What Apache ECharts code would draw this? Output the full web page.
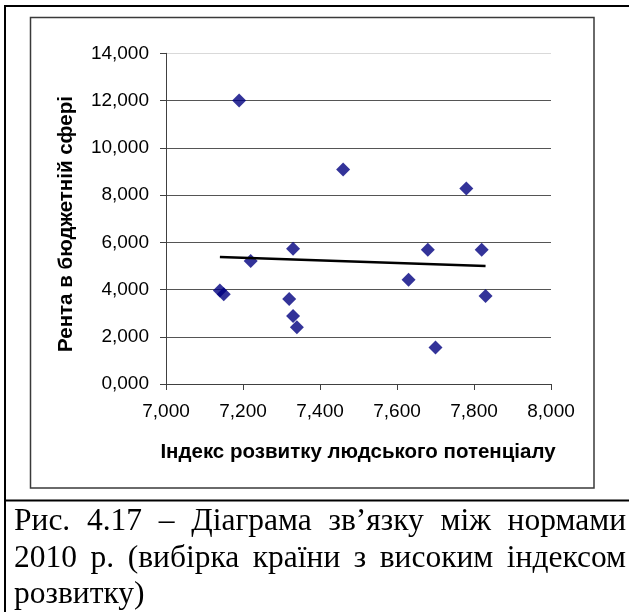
<!DOCTYPE html>
<html>
<head>
<meta charset="utf-8">
<script src="https://cdn.jsdelivr.net/npm/echarts@6/dist/echarts.min.js"></script>
<style>
html, body { margin: 0; padding: 0; background: #fff; }
#wrap { position: relative; width: 629px; height: 612px; overflow: hidden; }
#chart { position: absolute; left: 0; top: 0; width: 629px; height: 612px; }
#caption {
  position: absolute; left: 14px; top: 502px; width: 612px;
  font-family: "Liberation Serif", "Times New Roman", serif;
  font-size: 31.5px; line-height: 36.6px; color: #000;
}
#caption div { white-space: nowrap; }
#caption .j { text-align: justify; text-align-last: justify; }
</style>
</head>
<body>
<div id="wrap">
  <div id="chart"></div>
  <div id="caption">
    <div class="j">Рис. 4.17 – Діаграма зв’язку між нормами</div>
    <div class="j">2010 р. (вибірка країни з високим індексом</div>
    <div>розвитку)</div>
  </div>
</div>
<script>
// індекс розвитку людського потенціалу (x) та рента в бюджетній сфері (y)
const hdi  = [7.19, 7.46, 7.78, 7.33, 7.68, 7.82, 7.22, 7.63, 7.14, 7.15, 7.32, 7.83, 7.33, 7.34, 7.70];
const rent = [12.00, 9.08, 8.28, 5.73, 5.68, 5.68, 5.21, 4.41, 3.96, 3.80, 3.60, 3.73, 2.88, 2.40, 1.55];

const xTitle = "Індекс розвитку людського потенціалу";
const yTitle = "Рента в бюджетній сфері";

// лінійний тренд (МНК)
const n = hdi.length;
const mx = hdi.reduce((a, b) => a + b, 0) / n;
const my = rent.reduce((a, b) => a + b, 0) / n;
let sxy = 0, sxx = 0;
for (let i = 0; i < n; i++) {
  sxy += (hdi[i] - mx) * (rent[i] - my);
  sxx += (hdi[i] - mx) * (hdi[i] - mx);
}
const slope = sxy / sxx;
const xMin = Math.min(...hdi), xMax = Math.max(...hdi);
const trend = [xMin, xMax].map(x => [x, my + slope * (x - mx)]);

const fmt = v => v.toFixed(3).replace(".", ",");
const axisColor = "#404040";
const labelFont = { color: "#000", fontFamily: "Liberation Sans, Arial", fontSize: 19 };
const titleFont = "bold 20.5px 'Liberation Sans', Arial";

const chart = echarts.init(document.getElementById("chart"));
chart.setOption({
  animation: false,
  grid: { left: 166, top: 53.3, right: 78, bottom: 228 },
  xAxis: {
    type: "value", min: 7, max: 8, interval: 0.2,
    axisLine: { lineStyle: { color: axisColor, width: 1 } },
    axisTick: { show: true, length: 6, lineStyle: { color: axisColor } },
    axisLabel: Object.assign({ margin: 18, formatter: fmt }, labelFont),
    splitLine: { show: false }
  },
  yAxis: {
    type: "value", min: 0, max: 14, interval: 2,
    axisLine: { show: true, lineStyle: { color: axisColor, width: 1 } },
    axisTick: { show: true, length: 6, lineStyle: { color: axisColor } },
    axisLabel: Object.assign({ margin: 17, formatter: fmt }, labelFont),
    splitLine: {
      show: true,
      lineStyle: { color: ["#555", "#555", "#555", "#555", "#555", "#555", "#555", "#d9d9d9"], width: 1 }
    }
  },
  series: [
    {
      type: "scatter",
      data: hdi.map((x, i) => [x, rent[i]]),
      symbol: "diamond",
      symbolSize: [14, 14],
      itemStyle: { color: "#000080" },
      z: 3
    },
    {
      type: "line",
      data: trend,
      symbol: "none",
      lineStyle: { color: "#000", width: 2.5 },
      z: 4
    }
  ],
  graphic: [
    { type: "line", shape: { x1: 5, y1: 6, x2: 5, y2: 612 }, style: { stroke: "#000", lineWidth: 2 } },
    { type: "line", shape: { x1: 4, y1: 6, x2: 629, y2: 6 }, style: { stroke: "#000", lineWidth: 2 } },
    { type: "line", shape: { x1: 4, y1: 500.5, x2: 629, y2: 500.5 }, style: { stroke: "#000", lineWidth: 2 } },
    { type: "rect", shape: { x: 30.5, y: 17.5, width: 563.5, height: 470.5 },
      style: { fill: null, stroke: "#3a3a3a", lineWidth: 1.5 } },
    { type: "text", x: 358, y: 452,
      style: { text: xTitle, fill: "#000", font: titleFont, align: "center", verticalAlign: "middle" } },
    { type: "text", x: 66, y: 224, rotation: Math.PI / 2,
      style: { text: yTitle, fill: "#000", font: titleFont, align: "center", verticalAlign: "middle" } }
  ]
});
</script>
</body>
</html>
